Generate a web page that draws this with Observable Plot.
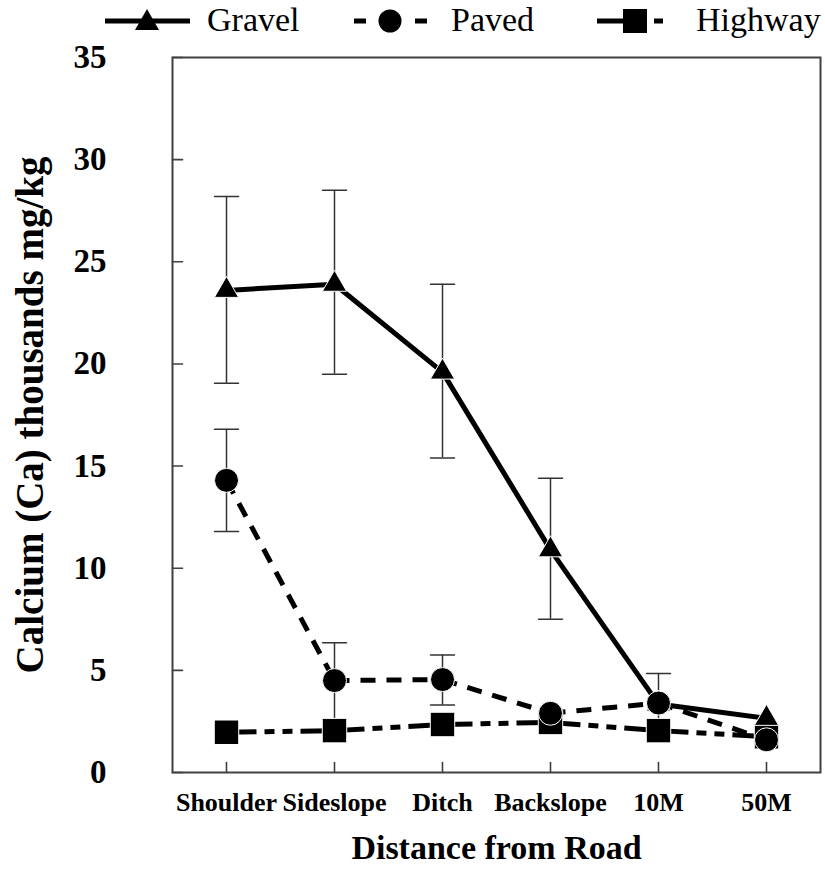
<!DOCTYPE html>
<html>
<head>
<meta charset="utf-8">
<script src="https://cdn.jsdelivr.net/npm/d3@7"></script>
<script src="https://cdn.jsdelivr.net/npm/@observablehq/plot@0.6"></script>
<style>
  body { margin: 0; background: #fff; }
  #wrap { position: relative; width: 825px; height: 870px; font-family: "Liberation Serif", "Times New Roman", serif; }
  #legend { position: relative; width: 825px; height: 40px; }
  .sym { position: absolute; top: 0; }
  .lbl { position: absolute; top: 0; height: 40px; line-height: 40px; font-size: 34px; color: #000; white-space: nowrap; }
  #chart svg { display: block; }
</style>
</head>
<body>
<div id="wrap">
  <div id="legend">
    <svg class="sym" style="left:100px" width="95" height="40">
      <line x1="5" y1="21" x2="90" y2="21" stroke="#000" stroke-width="5"/>
      <path d="M47,9 L59,30 L35,30 Z" fill="#000"/>
    </svg>
    <div class="lbl" style="left:207px">Gravel</div>
    <svg class="sym" style="left:345px" width="90" height="40">
      <line x1="9" y1="21" x2="21" y2="21" stroke="#000" stroke-width="5"/>
      <circle cx="45" cy="21" r="11.5" fill="#000"/>
      <line x1="70" y1="21" x2="82" y2="21" stroke="#000" stroke-width="5"/>
    </svg>
    <div class="lbl" style="left:451px">Paved</div>
    <svg class="sym" style="left:590px" width="80" height="40">
      <line x1="7" y1="21" x2="40" y2="21" stroke="#000" stroke-width="5"/>
      <rect x="33" y="9" width="24" height="24" fill="#000"/>
      <line x1="64" y1="21" x2="73" y2="21" stroke="#000" stroke-width="5"/>
    </svg>
    <div class="lbl" style="left:696px">Highway</div>
  </div>
  <div id="chart"></div>
</div>
<script>
// ---- data ----
const categories = ["Shoulder", "Sideslope", "Ditch", "Backslope", "10M", "50M"];
const gravel     = [23.6, 23.9, 19.6, 10.9, 3.35, 2.65];
const gravelLo   = [19.05, 19.5, 15.4, 7.5, 1.85, null];
const gravelHi   = [28.2, 28.5, 23.9, 14.4, 4.85, null];
const paved      = [14.3, 4.5, 4.55, 2.9, 3.4, 1.6];
const pavedLo    = [11.8, 2.6, 3.3, null, null, null];
const pavedHi    = [16.8, 6.35, 5.75, null, null, null];
const highway    = [1.97, 2.05, 2.35, 2.45, 2.05, 1.75];
const yTicks     = [0, 5, 10, 15, 20, 25, 30, 35];
const xTitle = "Distance from Road";
const yTitle = "Calcium (Ca) thousands mg/kg";

// ---- derived tables ----
const rows = (vals) => categories.map((c, i) => ({cat: c, v: vals[i]}));
const errRows = (lo, hi) => categories.map((c, i) => ({cat: c, lo: lo[i], hi: hi[i]})).filter(d => d.lo != null && d.hi != null);
const segs = (vals) => categories.slice(1).map((c, i) => ({c1: categories[i], v1: vals[i], c2: c, v2: vals[i + 1]}));

const gravelRows = rows(gravel), pavedRows = rows(paved), highwayRows = rows(highway);
const errs = [...errRows(gravelLo, gravelHi), ...errRows(pavedLo, pavedHi)];

const lineShape = { draw(context, l) { context.moveTo(0, 0); context.lineTo(0, -l); } };
const font = "Liberation Serif, Times New Roman, serif";

const chart = Plot.plot({
  width: 825,
  height: 830,
  marginLeft: 172,
  marginRight: 5,
  marginTop: 17,
  marginBottom: 98,
  style: { fontFamily: font, color: "#000", background: "#fff" },
  x: { type: "point", domain: categories, padding: 0.5 },
  y: { domain: [0, 35] },
  marks: [
    // axes tick marks (inward)
    Plot.vector(yTicks, { y: d => d, frameAnchor: "left", rotate: 90, length: 10, anchor: "start", shape: lineShape, stroke: "#404040", strokeWidth: 1.6 }),
    Plot.vector(categories, { x: d => d, frameAnchor: "bottom", rotate: 0, length: 10, anchor: "start", shape: lineShape, stroke: "#404040", strokeWidth: 1.6 }),
    Plot.axisY(yTicks, { anchor: "left", tickSize: 0, tickPadding: 66, fontSize: 33, fontWeight: "bold", tickFormat: d => String(d), label: null }),
    Plot.axisX(categories, { anchor: "bottom", tickSize: 0, tickPadding: 20, fontSize: 26, fontWeight: "bold", label: null }),
    // error bars
    Plot.ruleX(errs, { x: "cat", y1: "lo", y2: "hi", stroke: "#333", strokeWidth: 1.5 }),
    Plot.vector(errs, { x: "cat", y: "hi", rotate: 90, length: 24, anchor: "middle", shape: lineShape, stroke: "#333", strokeWidth: 1.5 }),
    Plot.vector(errs, { x: "cat", y: "lo", rotate: 90, length: 24, anchor: "middle", shape: lineShape, stroke: "#333", strokeWidth: 1.5 }),
    // lines
    Plot.line(gravelRows, { x: "cat", y: "v", stroke: "#000", strokeWidth: 5 }),
    Plot.link(segs(paved), { x1: "c1", y1: "v1", x2: "c2", y2: "v2", stroke: "#000", strokeWidth: 5, strokeDasharray: "15,11" }),
    Plot.link(segs(highway), { x1: "c1", y1: "v1", x2: "c2", y2: "v2", stroke: "#000", strokeWidth: 5, strokeDasharray: "30,8,10,8,10,8" }),
    // markers
    Plot.dot(highwayRows, { x: "cat", y: "v", symbol: "square", r: 13.8, fill: "#000", stroke: "#fff", strokeWidth: 1 }),
    Plot.dot(gravelRows, { x: "cat", y: "v", symbol: "triangle", r: 9, fill: "#000", stroke: "#fff", strokeWidth: 1 }),
    Plot.dot(pavedRows, { x: "cat", y: "v", symbol: "circle", r: 12, fill: "#000", stroke: "#fff", strokeWidth: 1 }),
    // frame
    Plot.frame({ stroke: "#404040", strokeWidth: 2 }),
    // axis titles
    Plot.text([yTitle], { text: d => d, frameAnchor: "left", textAnchor: "middle", lineAnchor: "middle", dx: -142, rotate: -90, fontSize: 39, fontWeight: "bold", fill: "#000" }),
    Plot.text([xTitle], { text: d => d, frameAnchor: "bottom", textAnchor: "middle", lineAnchor: "middle", dy: 76, fontSize: 34, fontWeight: "bold", fill: "#000" })
  ]
});
document.getElementById("chart").appendChild(chart);
</script>
</body>
</html>
